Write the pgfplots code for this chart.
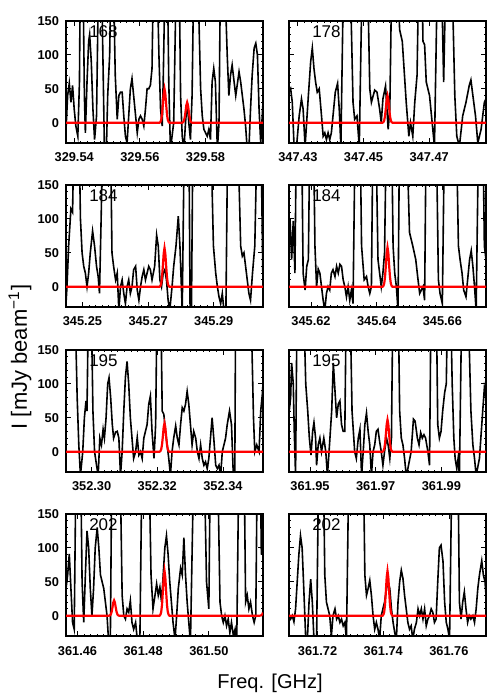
\documentclass[border=0pt]{standalone}
\usepackage{fontspec}
\setmainfont{Liberation Sans}
\usepackage{pgfplots}
\pgfplotsset{compat=1.18}
\tikzset{tag/.style={font=\fontsize{8.5}{9}\selectfont}}
\pgfplotsset{
  panel/.style={
    width=98.5pt, height=61pt, scale only axis, anchor=south west,
    xmin=-2.5, xmax=57.5, ymin=-30, ymax=150,
    ytick={0,50,100,150},
    minor x tick num=9, minor y tick num=4,
    tick align=inside, xtick pos=both, ytick pos=both,
    major tick length=2.5pt, minor tick length=1.2pt,
    axis line style={line width=0.6pt},
    tick style={line width=0.4pt, black},
    ticklabel style={font=\fontsize{6.4}{7}\selectfont\bfseries},
    xticklabel style={yshift=-1.5pt},
  },
  lpanel/.style={panel, yticklabels={0,50,100,150}},
  rpanel/.style={panel, yticklabels={}},
  spec/.style={black, line width=0.8pt, mark=none, sharp plot},
  model/.style={red, line width=1.1pt, mark=none, sharp plot},
}
\begin{document}
\begin{tikzpicture}
\useasboundingbox (0,0) rectangle (250pt,350pt);

% row 1 left
\begin{axis}[lpanel, at={(33pt,278.5pt)}, xtick={0,20,40}, xticklabels={329.54,329.56,329.58}]
\addplot[spec] coordinates {(-2.5,-10) (-2.0,40) (-1.5,58) (-1.0,30) (-0.5,55) (0.0,20) (0.5,-5) (1.1,-20) (1.6,60) (1.9,250) (2.6,250) (3.1,40) (3.4,-15) (3.9,60) (4.4,120) (4.7,130) (5.2,90) (5.7,20) (6.2,-25) (6.8,10) (7.5,250) (8.2,250) (8.8,80) (9.2,-40) (9.8,-40) (10.2,40) (10.8,100) (11.3,250) (11.8,250) (12.5,70) (13.1,5) (13.6,40) (14.1,45) (14.6,45) (15.1,10) (15.6,-20) (16.1,-30) (16.6,10) (17.1,50) (17.6,65) (18.1,40) (18.7,10) (19.2,-15) (19.7,5) (20.2,10) (20.7,5) (21.2,-5) (21.7,20) (22.2,50) (22.7,50) (23.2,55) (23.7,80) (24.2,250) (25.1,250) (25.8,100) (26.3,20) (26.8,-5) (27.1,60) (27.8,250) (28.3,250) (28.8,60) (29.3,-40) (30.3,0) (31.2,250) (31.9,250) (32.4,40) (32.9,-20) (33.4,-40) (33.9,0) (34.4,30) (34.9,0) (35.4,-25) (35.9,40) (36.5,250) (37.5,250) (38.5,50) (39.0,10) (39.5,-10) (40.0,-15) (40.5,-20) (41.0,-10) (41.5,-25) (42.0,60) (42.5,80) (43.0,60) (43.6,-40) (44.1,0) (44.6,250) (45.6,250) (46.6,100) (47.1,40) (47.6,70) (48.1,85) (48.7,60) (49.2,40) (50.2,75) (50.7,60) (51.2,40) (51.7,20) (52.2,-5) (52.7,-40) (53.2,-40) (53.7,20) (54.2,70) (54.8,110) (55.3,117) (55.8,100) (56.3,20) (56.8,-30) (57.5,30)};
\addplot[model] coordinates {(-2.5,0) (26,0) (26.25,1) (26.5,4.3) (26.75,12.5) (27,27) (27.25,42.9) (27.5,50) (27.75,42.9) (28,27) (28.25,12.5) (28.5,4.3) (28.75,1) (29,0) (32.9,0) (33.15,0.6) (33.4,2.6) (33.65,7.5) (33.9,16.2) (34.15,25.7) (34.4,30) (34.65,25.7) (34.9,16.2) (35.15,7.5) (35.4,2.6) (35.65,0.6) (35.9,0) (57.5,0)};
\node[tag] at (rel axis cs:0.19,0.91) {168};
\end{axis}

% row 1 right
\begin{axis}[rpanel, at={(144.5pt,278.5pt)}, xtick={0.2,20.2,40.2}, xticklabels={347.43,347.45,347.47}]
\addplot[spec] coordinates {(-2.5,45) (-2.0,50) (-1.5,30) (-1.0,-30) (-0.2,-35) (0.6,10) (1.3,35) (1.8,20) (2.4,-35) (3.4,40) (4.1,90) (4.6,110) (5.1,80) (5.6,60) (6.1,45) (6.7,50) (7.4,10) (7.9,-20) (8.4,-15) (8.9,-25) (9.4,-15) (9.9,-25) (10.4,-15) (10.9,10) (11.6,45) (12.3,58) (12.8,20) (13.3,-35) (14.2,250) (16.0,250) (17.0,30) (17.5,5) (18.2,10) (18.9,-35) (19.9,250) (21.3,250) (22.1,50) (22.6,30) (23.6,48) (24.3,45) (25.1,20) (25.6,0) (26.1,35) (26.9,54) (27.7,-10) (28.2,20) (28.9,250) (30.2,250) (31.2,137) (32.0,120) (33.2,30) (34.0,-20) (34.5,0) (35.2,-20) (35.8,30) (36.5,70) (37.1,250) (37.9,250) (38.3,120) (38.8,115) (39.3,60) (40.3,40) (41.1,0) (41.8,-35) (42.8,250) (43.8,250) (44.6,60) (45.4,250) (47.0,250) (48.0,40) (48.6,-20) (49.4,-35) (50.4,10) (51.4,30) (52.4,55) (52.9,63) (53.5,40) (54.3,10) (55.0,-30) (56.0,-10) (57.0,30) (57.5,35)};
\addplot[model] coordinates {(-2.5,0) (26,0) (26.25,0.8) (26.5,3.4) (26.75,10) (27,21.6) (27.25,34.3) (27.5,40) (27.75,34.3) (28,21.6) (28.25,10) (28.5,3.4) (28.75,0.8) (29,0) (57.5,0)};
\node[tag] at (rel axis cs:0.19,0.91) {178};
\end{axis}

% row 2 left
\begin{axis}[lpanel, at={(33pt,196.5pt)}, xtick={2.5,22.5,42.5}, xticklabels={345.25,345.27,345.29}]
\addplot[spec] coordinates {(-2.5,-25) (-2.2,0) (-1.7,60) (-1.0,115) (-0.5,110) (0.0,250) (1.4,250) (1.9,100) (2.4,50) (2.9,30) (3.4,20) (3.9,0) (4.4,20) (4.9,50) (5.6,82) (6.2,60) (6.8,30) (7.3,15) (7.7,-10) (8.2,100) (8.8,250) (11.0,250) (11.5,50) (12.0,30) (12.6,10) (13.1,20) (13.6,-35) (14.1,0) (14.6,10) (15.1,-10) (15.6,-25) (16.1,0) (16.6,10) (17.1,-10) (17.6,0) (18.1,25) (18.7,30) (19.2,-5) (19.7,-20) (20.2,0) (20.7,15) (21.2,25) (21.7,10) (22.2,20) (22.7,30) (23.2,25) (23.7,10) (24.5,30) (25.1,76) (25.6,60) (26.1,10) (26.6,0) (27.1,20) (27.6,25) (28.1,10) (28.6,-20) (29.1,-35) (29.8,0) (30.3,30) (31.0,60) (31.7,104) (32.2,60) (32.9,-35) (33.6,250) (34.9,250) (35.3,-40) (35.7,-40) (36.2,250) (41.5,250) (42.4,60) (43.1,20) (43.6,0) (44.1,-15) (44.6,-25) (45.1,-10) (45.6,-35) (46.2,-35) (46.8,250) (49.7,250) (50.7,60) (51.2,45) (51.7,50) (52.2,30) (52.7,10) (53.2,-10) (53.7,-20) (54.3,20) (55.0,60) (55.8,250) (56.8,250) (57.5,0)};
\addplot[model] coordinates {(-2.5,0) (26,0) (26.25,1.2) (26.5,4.8) (26.75,14.2) (27,30.7) (27.25,48.8) (27.5,57) (27.75,48.8) (28,30.7) (28.25,14.2) (28.5,4.8) (28.75,1.2) (29,0) (57.5,0)};
\node[tag] at (rel axis cs:0.19,0.91) {184};
\end{axis}

% row 2 right
\begin{axis}[rpanel, at={(144.5pt,196.5pt)}, xtick={4.2,24.2,44.2}, xticklabels={345.62,345.64,345.66}]
\addplot[spec] coordinates {(-2.5,60) (-2.2,100) (-1.7,40) (-1.2,97) (-0.7,20) (-0.2,250) (1.3,250) (1.8,20) (2.4,-5) (2.9,30) (3.4,40) (3.9,250) (4.9,250) (5.4,60) (5.9,0) (6.4,26) (6.9,20) (7.4,0) (7.9,-20) (8.4,-35) (8.9,-10) (9.4,0) (9.9,-5) (10.4,20) (10.9,25) (11.5,15) (12.0,30) (12.5,20) (13.0,33) (13.5,30) (14.0,10) (14.5,0) (15.0,-15) (15.5,0) (16.0,-20) (16.5,-5) (17.0,-25) (17.7,250) (19.1,250) (19.6,60) (20.4,10) (21.1,15) (21.6,0) (22.1,-10) (22.6,0) (23.1,250) (23.9,250) (24.6,40) (25.1,20) (25.6,0) (26.1,20) (26.6,50) (27.2,250) (28.7,250) (29.2,60) (29.7,20) (30.2,0) (30.7,-35) (31.2,250) (33.2,250) (34.2,80) (35.2,60) (36.1,40) (36.8,10) (37.3,-10) (37.8,-5) (38.3,0) (38.8,-20) (39.3,250) (42.3,250) (43.0,10) (43.5,-10) (44.2,-25) (44.9,250) (48.4,250) (49.1,60) (49.6,40) (50.2,20) (50.7,-5) (51.4,-15) (51.9,10) (52.5,40) (53.0,53) (53.5,30) (54.0,0) (54.5,-35) (55.3,250) (56.5,250) (57.0,60) (57.5,40)};
\addplot[model] coordinates {(-2.5,0) (26,0) (26.25,1.2) (26.5,4.9) (26.75,14.4) (27,31.3) (27.25,49.7) (27.5,58) (27.75,49.7) (28,31.3) (28.25,14.4) (28.5,4.9) (28.75,1.2) (29,0) (57.5,0)};
\node[tag] at (rel axis cs:0.19,0.91) {184};
\end{axis}

% row 3 left
\begin{axis}[lpanel, at={(33pt,114pt)}, xtick={5.3,25.3,45.3}, xticklabels={352.30,352.32,352.34}]
\addplot[spec] coordinates {(-2.5,250) (0.1,250) (0.9,80) (1.4,10) (1.9,-35) (2.6,0) (3.1,50) (3.6,75) (3.9,60) (4.4,250) (5.1,250) (5.7,60) (6.2,0) (6.8,-20) (7.3,-35) (7.8,20) (8.3,10) (8.8,33) (9.2,20) (9.7,50) (10.2,100) (10.6,109) (11.1,80) (11.6,40) (12.0,20) (12.6,29) (13.1,30) (13.6,20) (14.1,-35) (14.6,0) (15.1,60) (15.6,110) (16.1,133) (16.6,100) (17.1,50) (17.6,20) (18.1,-10) (18.7,0) (19.2,21) (19.7,-5) (20.2,0) (20.7,-10) (21.2,20) (21.7,30) (22.2,40) (22.7,70) (23.2,82) (23.7,30) (24.3,-10) (24.8,40) (25.3,250) (26.3,250) (26.8,60) (27.3,55) (27.8,30) (28.3,10) (28.8,-10) (29.3,-35) (29.8,0) (30.3,20) (30.9,38) (31.4,20) (31.9,10) (32.4,40) (32.9,65) (33.4,60) (33.9,70) (34.4,89) (34.9,70) (35.4,40) (35.9,10) (36.4,30) (37.0,20) (37.5,0) (38.0,-10) (38.5,10) (39.0,-10) (39.5,-20) (40.0,-15) (40.5,-25) (41.0,-10) (41.5,20) (42.0,50) (42.5,20) (43.1,-20) (43.6,-25) (44.1,-20) (44.6,-35) (45.1,0) (45.6,10) (46.1,20) (46.6,40) (47.3,60) (47.9,40) (48.5,-40) (48.9,-40) (49.2,250) (53.7,250) (54.6,50) (55.0,0) (55.6,10) (56.3,0) (56.8,60) (57.3,85) (57.5,100)};
\addplot[model] coordinates {(-2.5,0) (26,0) (26.25,0.9) (26.5,3.6) (26.75,10.5) (27,22.6) (27.25,36) (27.5,42) (27.75,36) (28,22.6) (28.25,10.5) (28.5,3.6) (28.75,0.9) (29,0) (57.5,0)};
\node[tag] at (rel axis cs:0.19,0.91) {195};
\end{axis}

% row 3 right
\begin{axis}[rpanel, at={(144.5pt,114pt)}, xtick={3.9,23.9,43.9}, xticklabels={361.95,361.97,361.99}]
\addplot[spec] coordinates {(-2.5,57) (-2.0,80) (-1.7,131) (-1.2,100) (-0.9,30) (-0.5,-35) (0.0,250) (1.8,250) (2.6,100) (3.2,60) (3.7,20) (4.2,-5) (4.7,30) (5.1,43) (5.6,20) (5.9,-20) (6.4,10) (6.9,20) (7.4,0) (8.1,20) (8.7,0) (9.2,-35) (9.7,0) (10.5,60) (11.0,131) (11.5,90) (12.0,50) (12.5,70) (13.0,75) (13.5,40) (14.0,30) (14.5,30) (15.0,250) (16.0,250) (16.7,60) (17.5,0) (18.0,-10) (18.6,20) (19.1,33) (19.6,-35) (20.1,0) (20.6,40) (21.1,57) (21.6,30) (22.1,10) (22.6,-35) (23.1,0) (23.6,10) (24.1,30) (24.6,33) (25.1,15) (25.6,0) (26.1,-20) (26.6,0) (27.2,20) (27.7,10) (28.2,-10) (28.7,20) (29.2,250) (30.7,250) (31.2,60) (31.7,20) (32.2,10) (32.7,-10) (33.2,-35) (33.7,-25) (34.7,0) (35.4,48) (35.9,45) (36.6,20) (37.1,10) (37.6,28) (38.1,20) (38.6,25) (39.1,20) (39.8,0) (40.3,-20) (40.8,250) (42.3,250) (42.8,40) (43.3,20) (43.8,30) (44.3,60) (44.9,87) (45.4,100) (45.9,250) (46.6,250) (47.2,100) (47.7,20) (48.1,-10) (48.6,-25) (49.0,-10) (49.4,-35) (50.2,250) (51.9,250) (52.9,60) (53.5,10) (54.0,-10) (54.5,-35) (55.5,-10) (56.5,60) (57.0,94) (57.5,80)};
\addplot[model] coordinates {(-2.5,0) (26,0) (26.25,1) (26.5,4) (26.75,11.7) (27,25.3) (27.25,40.3) (27.5,47) (27.75,40.3) (28,25.3) (28.25,11.7) (28.5,4) (28.75,1) (29,0) (57.5,0)};
\node[tag] at (rel axis cs:0.19,0.91) {195};
\end{axis}

% row 4 left
\begin{axis}[lpanel, at={(33pt,32pt)}, xtick={1.0,21.0,41.0}, xticklabels={361.46,361.48,361.50}]
\addplot[spec] coordinates {(-2.5,40) (-2.0,60) (-1.5,91) (-1.0,40) (-0.5,-10) (0.0,-20) (0.6,250) (1.9,250) (2.4,50) (2.9,-10) (3.4,60) (3.9,125) (4.4,100) (4.9,40) (5.4,0) (5.9,40) (6.4,100) (7.0,130) (7.5,100) (8.0,60) (8.5,50) (9.0,40) (9.5,20) (10.0,0) (10.5,-40) (11.0,-40) (11.5,250) (13.9,250) (14.6,30) (15.1,0) (15.6,-5) (16.1,10) (16.6,5) (17.1,22) (17.6,-10) (18.1,-20) (18.7,-10) (19.2,-35) (20.0,-35) (20.7,250) (22.7,250) (23.4,60) (24.0,10) (24.6,30) (25.1,47) (25.6,30) (26.1,42) (26.6,20) (27.1,60) (27.6,100) (28.1,118) (28.6,90) (29.1,50) (29.6,20) (30.1,-10) (30.7,-35) (31.2,0) (31.7,40) (32.4,70) (32.9,60) (33.4,115) (33.9,60) (34.4,20) (34.9,-10) (35.4,-40) (36.5,250) (39.5,250) (40.3,50) (41.0,10) (41.5,250) (43.6,250) (44.4,20) (44.9,0) (45.4,-10) (45.9,0) (46.4,-15) (46.9,-5) (47.4,-25) (47.9,-10) (48.5,-30) (49.0,-20) (49.5,-40) (50.2,250) (51.7,250) (52.2,20) (52.7,30) (53.2,10) (53.7,20) (54.3,0) (54.8,-10) (55.3,0) (55.8,250) (56.6,250) (57.0,90) (57.5,250)};
\addplot[model] coordinates {(-2.5,0) (10.65,0) (10.9,0.5) (11.15,1.9) (11.4,5.6) (11.65,12.1) (11.9,19.3) (12.15,22.5) (12.4,19.3) (12.65,12.1) (12.9,5.6) (13.15,1.9) (13.4,0.5) (13.65,0) (26,0) (26.25,1.4) (26.5,5.6) (26.75,16.4) (27,35.6) (27.25,56.6) (27.5,66) (27.75,56.6) (28,35.6) (28.25,16.4) (28.5,5.6) (28.75,1.4) (29,0) (56.5,0) (56.75,0.2) (57,0.6) (57.25,1.8) (57.5,4.5)};
\node[tag] at (rel axis cs:0.19,0.91) {202};
\end{axis}

% row 4 right
\begin{axis}[rpanel, at={(144.5pt,32pt)}, xtick={6.2,26.2,46.2}, xticklabels={361.72,361.74,361.76}]
\addplot[spec] coordinates {(-2.5,0) (-2.0,-5) (-1.5,0) (-1.0,-9) (-0.5,10) (0.0,50) (0.5,90) (1.0,118) (1.5,100) (2.0,40) (2.6,-35) (3.1,-35) (3.6,20) (4.1,54) (4.6,20) (5.1,-35) (5.9,-35) (6.6,250) (7.9,250) (8.4,60) (8.9,20) (9.4,10) (9.9,0) (10.4,-30) (10.9,0) (11.5,10) (12.0,-5) (12.5,0) (13.0,-10) (13.5,-5) (14.0,-15) (14.5,-10) (15.0,-35) (15.8,250) (20.1,250) (20.6,60) (21.1,30) (21.6,40) (22.1,52) (22.6,30) (23.1,0) (23.6,-20) (24.1,-10) (24.6,-20) (25.1,-35) (25.6,0) (26.1,10) (26.6,20) (27.2,40) (27.7,50) (28.2,40) (28.7,10) (29.2,-10) (29.7,-25) (30.2,-35) (30.7,20) (31.2,50) (31.7,67) (32.2,55) (32.7,30) (33.2,10) (33.7,-10) (34.2,-20) (34.7,-15) (35.2,-35) (35.7,-20) (36.3,-10) (36.8,10) (37.3,0) (37.8,10) (38.3,-5) (38.8,10) (39.3,-15) (39.8,-5) (40.3,0) (40.8,10) (41.3,5) (41.8,-10) (42.3,-5) (42.8,50) (43.3,100) (43.8,104) (44.4,80) (44.9,20) (45.4,-10) (45.9,-20) (46.4,-35) (47.2,250) (48.9,250) (49.4,20) (49.9,-5) (50.4,20) (50.9,35) (51.4,10) (51.9,-10) (52.4,0) (52.9,-5) (53.5,0) (54.0,-10) (54.5,10) (55.0,40) (55.5,60) (56.2,81) (56.7,60) (57.2,50) (57.5,30)};
\addplot[model] coordinates {(-2.5,0) (26,0) (26.25,1.4) (26.5,5.6) (26.75,16.4) (27,35.6) (27.25,56.6) (27.5,66) (27.75,56.6) (28,35.6) (28.25,16.4) (28.5,5.6) (28.75,1.4) (29,0) (57.5,0)};
\node[tag] at (rel axis cs:0.19,0.91) {202};
\end{axis}

\node[font=\fontsize{10}{12}\selectfont] at (135pt,8.5pt) {Freq. [GHz]};
\node[rotate=90, font=\fontsize{11}{13}\selectfont] at (10pt,171.5pt) {I [mJy beam\textsuperscript{−1}]};
\end{tikzpicture}
\end{document}
